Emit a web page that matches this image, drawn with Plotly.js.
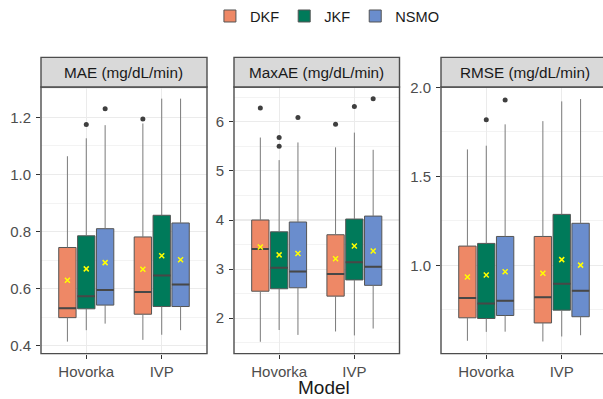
<!DOCTYPE html>
<html><head><meta charset="utf-8">
<script src="https://cdn.plot.ly/plotly-3.0.1.min.js"></script>
<style>html,body{margin:0;padding:0;background:#fff;} #chart{width:603px;height:399px;}</style>
</head><body><div id="chart"></div>
<script>
const models = ['Hovorka', 'IVP'];
const methods = ['DKF', 'JKF', 'NSMO'];
const colors = ['#EE8866', '#007A5A', '#6A8DCD'];
const panelTitles = ['MAE (mg/dL/min)', 'MaxAE (mg/dL/min)', 'RMSE (mg/dL/min)'];
const axisTitle = 'Model';

// rows: DKF, JKF, NSMO ; columns: Hovorka, IVP
const maeQ1     = [[0.498, 0.510], [0.529, 0.537], [0.542, 0.537]];
const maeMedian = [[0.531, 0.588], [0.573, 0.646], [0.595, 0.614]];
const maeQ3     = [[0.744, 0.781], [0.785, 0.857], [0.810, 0.830]];
const maeLower  = [[0.414, 0.420], [0.454, 0.438], [0.477, 0.454]];
const maeUpper  = [[1.064, 1.179], [1.127, 1.266], [1.173, 1.266]];
const maeMean   = [[0.629, 0.668], [0.669, 0.715], [0.691, 0.701]];
const maeOutliers = [[[], [1.195]], [[1.175], []], [[1.231], []]];

const maxaeQ1     = [[2.55, 2.45], [2.60, 2.78], [2.62, 2.67]];
const maxaeMedian = [[3.41, 2.90], [3.03, 3.14], [2.95, 3.05]];
const maxaeQ3     = [[4.00, 3.70], [3.76, 4.02], [3.96, 4.08]];
const maxaeLower  = [[1.52, 1.73], [1.76, 1.65], [1.66, 1.79]];
const maxaeUpper  = [[5.68, 5.48], [5.22, 5.78], [5.58, 5.43]];
const maxaeMean   = [[3.45, 3.21], [3.29, 3.47], [3.32, 3.37]];
const maxaeOutliers = [[[6.28], [5.95]], [[5.68, 5.50], [6.31]], [[6.09], [6.47]]];

const rmseQ1     = [[0.706, 0.677], [0.702, 0.749], [0.719, 0.712]];
const rmseMedian = [[0.817, 0.821], [0.786, 0.898], [0.802, 0.858]];
const rmseQ3     = [[1.109, 1.163], [1.124, 1.287], [1.163, 1.237]];
const rmseLower  = [[0.577, 0.573], [0.627, 0.601], [0.628, 0.608]];
const rmseUpper  = [[1.652, 1.811], [1.673, 1.922], [1.793, 1.935]];
const rmseMean   = [[0.935, 0.956], [0.946, 1.033], [0.965, 1.002]];
const rmseOutliers = [[[], []], [[1.819], []], [[1.930], []]];

const maeTicks = [0.4, 0.6, 0.8, 1.0, 1.2];
const maxaeTicks = [2, 3, 4, 5, 6];
const rmseTicks = [1.0, 1.5, 2.0];

const panels = [
  {q1: maeQ1, med: maeMedian, q3: maeQ3, lo: maeLower, hi: maeUpper, mean: maeMean, out: maeOutliers,
   range: [0.372, 1.307], ticks: maeTicks, fmt: '.1f', minor: 0.1, xr: [-0.6, 1.6], dom: [41/603, 207/603]},
  {q1: maxaeQ1, med: maxaeMedian, q3: maxaeQ3, lo: maxaeLower, hi: maxaeUpper, mean: maxaeMean, out: maxaeOutliers,
   range: [1.28, 6.71], ticks: maxaeTicks, fmt: 'd', minor: 0.5, xr: [-0.6, 1.6], dom: [234/603, 399.5/603]},
  {q1: rmseQ1, med: rmseMedian, q3: rmseQ3, lo: rmseLower, hi: rmseUpper, mean: rmseMean, out: rmseOutliers,
   range: [0.505, 2.003], ticks: rmseTicks, fmt: '.1f', minor: 0.25, xr: [-0.6, 1.547], dom: [441/603, 1]}
];

const offsets = [-0.25, 0, 0.25];
const boxW = 0.23;
const yDom = [46/399, 316/399];
const stripTop = 346/399;
const font = 'Liberation Sans, Arial, Helvetica, sans-serif';

const traces = [];
const layout = {
  width: 603, height: 399,
  margin: {l: 0, r: 0, t: 0, b: 0},
  paper_bgcolor: '#fff', plot_bgcolor: '#fff',
  font: {family: font, color: '#1A1A1A'},
  showlegend: true,
  legend: {orientation: 'h', x: 0.543, xanchor: 'center', y: 1 - 11/399, yanchor: 'middle',
           font: {size: 14.6, color: '#1A1A1A'}, bgcolor: 'rgba(0,0,0,0)'},
  shapes: [], annotations: []
};

panels.forEach((p, i) => {
  const sfx = i === 0 ? '' : String(i + 1);
  const xa = 'x' + sfx, ya = 'y' + sfx;
  const whiskX = [], whiskY = [], medX = [], medY = [];
  methods.forEach((meth, k) => {
    const xs = models.map((_, g) => g + offsets[k]);
    traces.push({
      type: 'box', name: meth, legendgroup: meth, showlegend: i === 0,
      x: xs, q1: p.q1[k], median: p.med[k], q3: p.q3[k],
      lowerfence: p.q1[k], upperfence: p.q3[k],
      width: boxW, whiskerwidth: 0, boxpoints: false,
      fillcolor: colors[k], line: {color: '#555555', width: 1},
      hoverinfo: 'skip', xaxis: xa, yaxis: ya
    });
    xs.forEach((x, g) => {
      whiskX.push(x, x, null, x, x, null);
      whiskY.push(p.lo[k][g], p.q1[k][g], null, p.q3[k][g], p.hi[k][g], null);
      medX.push(x - boxW / 2, x + boxW / 2, null);
      medY.push(p.med[k][g], p.med[k][g], null);
    });
  });
  traces.push({type: 'scatter', mode: 'lines', x: whiskX, y: whiskY, line: {color: '#7A7A7A', width: 1},
               showlegend: false, hoverinfo: 'skip', xaxis: xa, yaxis: ya});
  traces.push({type: 'scatter', mode: 'lines', x: medX, y: medY, line: {color: '#474747', width: 2},
               showlegend: false, hoverinfo: 'skip', xaxis: xa, yaxis: ya});
  const mX = [], mY = [], oX = [], oY = [];
  methods.forEach((meth, k) => {
    models.forEach((_, g) => {
      mX.push(g + offsets[k]); mY.push(p.mean[k][g]);
      p.out[k][g].forEach(v => { oX.push(g + offsets[k]); oY.push(v); });
    });
  });
  traces.push({type: 'scatter', mode: 'markers', x: oX, y: oY,
               marker: {color: '#3F3F3F', size: 5, symbol: 'circle'},
               showlegend: false, hoverinfo: 'skip', xaxis: xa, yaxis: ya});
  traces.push({type: 'scatter', mode: 'markers', x: mX, y: mY,
               marker: {color: '#FFFF00', size: 5, symbol: 'x-thin', line: {color: '#FFFF00', width: 1.5}},
               showlegend: false, hoverinfo: 'skip', xaxis: xa, yaxis: ya});

  layout['xaxis' + sfx] = {
    domain: p.dom, range: p.xr, anchor: ya, tickmode: 'array', tickvals: models.map((_, g) => g), ticktext: models,
    showgrid: true, gridcolor: '#EBEBEB', gridwidth: 1.1, zeroline: false, showline: false,
    ticks: 'outside', ticklen: 4, tickcolor: '#333333', tickwidth: 1,
    tickfont: {size: 15, color: '#4D4D4D', family: font}, fixedrange: true
  };
  layout['yaxis' + sfx] = {
    domain: yDom, range: p.range, anchor: xa, tickmode: 'array', tickvals: p.ticks, tickformat: p.fmt,
    showgrid: true, gridcolor: '#EBEBEB', gridwidth: 1.1, zeroline: false, showline: false,
    ticks: 'outside', ticklen: 4, tickcolor: '#333333', tickwidth: 1, ticklabelstandoff: 2,
    tickfont: {size: 15, color: '#4D4D4D', family: font}, fixedrange: true,
    minor: {dtick: p.minor, tick0: 0, showgrid: true, gridcolor: '#EBEBEB', gridwidth: 0.6, ticks: ''}
  };
  const x1 = i === 2 ? 1.05 : 1;
  layout.shapes.push({type: 'rect', xref: xa + ' domain', yref: ya + ' domain', x0: 0, x1: x1, y0: 0, y1: 1,
                      line: {color: '#4D4D4D', width: 1.4}, fillcolor: 'rgba(0,0,0,0)', layer: 'above'});
  layout.shapes.push({type: 'rect', xref: xa + ' domain', yref: 'paper', x0: 0, x1: x1, y0: yDom[1], y1: stripTop,
                      line: {color: '#4D4D4D', width: 1.4}, fillcolor: '#D9D9D9', layer: 'above'});
  layout.annotations.push({text: panelTitles[i], xref: xa + ' domain', yref: 'paper',
                           x: i === 2 ? 0.52 : 0.5, y: (yDom[1] + stripTop) / 2, xanchor: 'center', yanchor: 'middle',
                           showarrow: false, font: {size: 15.3, color: '#1A1A1A', family: font}});
});

layout.annotations.push({text: axisTitle, xref: 'paper', yref: 'paper', x: 324/603, y: 12/399,
                         xanchor: 'center', yanchor: 'middle', showarrow: false,
                         font: {size: 19, color: '#1A1A1A', family: font}});

Plotly.newPlot('chart', traces, layout, {staticPlot: true, displayModeBar: false});
</script>
</body></html>
